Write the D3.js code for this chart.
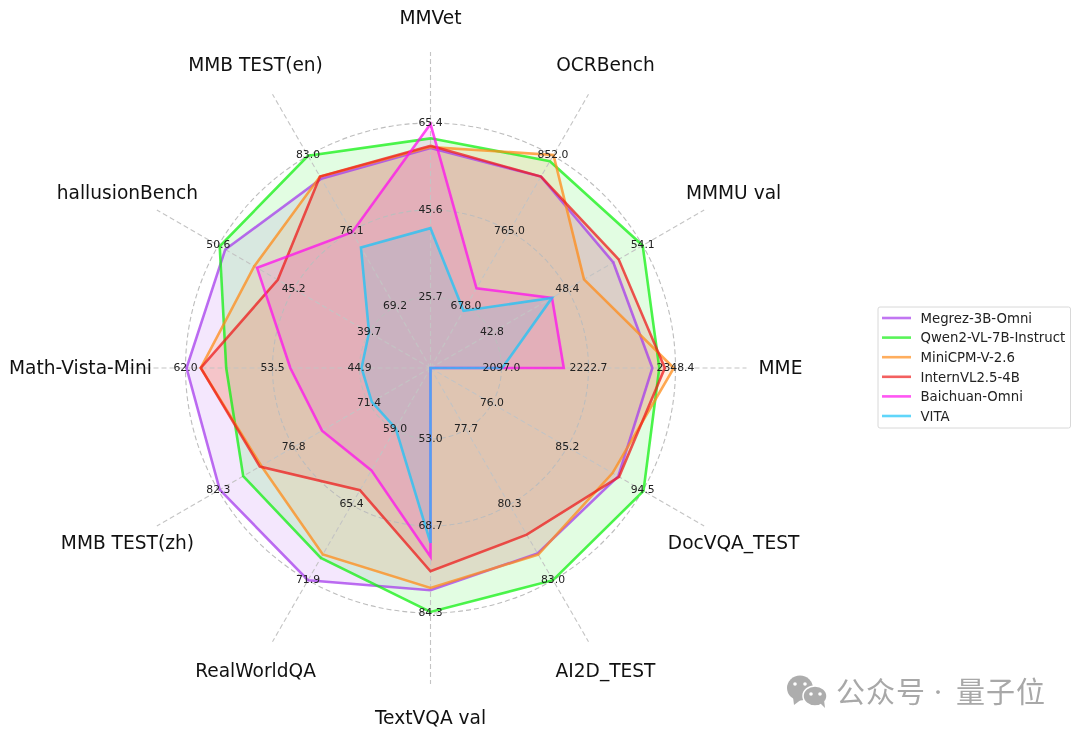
<!DOCTYPE html>
<html><head><meta charset="utf-8">
<script src="https://cdn.jsdelivr.net/npm/d3@7/dist/d3.min.js"></script>
<style>html,body{margin:0;padding:0;background:#fff}svg{display:block;filter:blur(0.4px)}text{font-family:"DejaVu Sans",sans-serif}</style>
</head><body><svg id="c" width="1080" height="736"></svg>
<script>
const axesNames = ["MMVet","OCRBench","MMMU val","MME","DocVQA_TEST","AI2D_TEST","TextVQA val","RealWorldQA","MMB TEST(zh)","Math-Vista-Mini","hallusionBench","MMB TEST(en)"];
const tickInner = [25.7,678.0,42.8,2097.0,76.0,77.7,53.0,59.0,71.4,44.9,39.7,69.2];
const tickMiddle = [45.6,765.0,48.4,2222.7,85.2,80.3,68.7,65.4,76.8,53.5,45.2,76.1];
const tickOuter = [65.4,852.0,54.1,2348.4,94.5,83.0,84.3,71.9,82.3,62.0,50.6,83.0];
const seriesNames = ["Megrez-3B-Omni","Qwen2-VL-7B-Instruct","MiniCPM-V-2.6","InternVL2.5-4B","Baichuan-Omni","VITA"];
const seriesColors = ["#a63cec","#12f012","#ff8c1a","#ee1c1c","#ff10ee","#1cc4f8"];
const megrez = [59.7,828,51.9,2315,91.5,82.06,80.2,71.9,82.2,61.9,50.1,80.9];
const qwen = [61.9,845.8,54.1,2325,94.6,83.0,84.1,70.0,80.5,58.0,50.5,83.0];
const minicpm = [59.9,853,49.7,2346,90.8,82.1,79.8,69.7,79.2,60.5,48.0,81.1];
const intern = [60.2,828,52.3,2333,91.6,81.4,76.8,64.2,79.3,60.5,46.3,81.1];
const baichuan = [65.2,699,47.3,2187,null,null,74.2,62.5,74.8,51.7,47.8,76.0];
const vita = [41.4,673,47.3,2098,null,null,71.7,58.9,71.2,44.7,39.7,74.6];
const seriesValues = [megrez,qwen,minicpm,intern,baichuan,vita];

const cx=430.5, cy=368, rIn=71, rMid=158, rOut=245, rAxis=316, rLabel=350;
const svg=d3.select("#c");
const g=svg.append("g").attr("transform",`translate(${cx},${cy})`);
const angle=d3.scalePoint().domain(axesNames).range([0,2*Math.PI*(11/12)]);
const radial=axesNames.map((_,i)=>d3.scaleLinear().domain([tickInner[i],tickOuter[i]]).range([rIn,rOut]));
const px=(a,r)=>[r*Math.sin(a),-r*Math.cos(a)];
const line=d3.lineRadial().angle((d,i)=>angle(axesNames[i])).radius((d,i)=>d==null?0:radial[i](d)).curve(d3.curveLinearClosed);

seriesValues.forEach((vals,k)=>{
  g.append("path").attr("d",line(vals)).attr("fill",seriesColors[k]).attr("fill-opacity",0.12).attr("stroke","none");
});
[rIn,rMid,rOut].forEach(r=>g.append("circle").attr("r",r).attr("fill","none").attr("stroke","#bdbdbd").attr("stroke-width",1.1).attr("stroke-dasharray","5,3"));
axesNames.forEach(n=>{const [x,y]=px(angle(n),rAxis);
  g.append("line").attr("x2",x).attr("y2",y).attr("stroke","#c4c4c4").attr("stroke-width",1.1).attr("stroke-dasharray","5,3");});
seriesValues.forEach((vals,k)=>{
  g.append("path").attr("d",line(vals)).attr("fill","none").attr("stroke",seriesColors[k]).attr("stroke-opacity",0.75).attr("stroke-width",2.6).attr("stroke-linejoin","miter");
});

axesNames.forEach((n,i)=>{
  [[tickInner,rIn],[tickMiddle,rMid],[tickOuter,rOut]].forEach(([arr,r])=>{
    const [x,y]=px(angle(n),r);
    g.append("text").attr("x",x).attr("y",y).attr("text-anchor","middle").attr("dy","0.24em").attr("font-size",10.8).attr("fill","#222").text(arr[i].toFixed(1));
  });
  const [x,y]=px(angle(n),rLabel);
  g.append("text").attr("x",x).attr("y",y-1).attr("text-anchor","middle").attr("dy","0.36em").attr("font-size",18.6).attr("fill","#111").text(n);
});

// legend
const lg=svg.append("g");
lg.append("rect").attr("x",878).attr("y",307).attr("width",192.5).attr("height",121).attr("rx",2).attr("fill","#fff").attr("stroke","#d8d8d8").attr("stroke-width",1);
const rowY=d3.scalePoint().domain(seriesNames).range([318,416]);
seriesNames.forEach((n,k)=>{
  lg.append("line").attr("x1",882).attr("x2",911).attr("y1",rowY(n)).attr("y2",rowY(n)).attr("stroke",seriesColors[k]).attr("stroke-opacity",0.7).attr("stroke-width",2.6);
  lg.append("text").attr("x",920.5).attr("y",rowY(n)).attr("dy","0.36em").attr("font-size",13.3).attr("fill","#222").text(n);
});

// watermark
const wm=svg.append("g").attr("fill","#adadad");
wm.append("ellipse").attr("cx",800).attr("cy",688).attr("rx",13).attr("ry",12.5);
wm.append("path").attr("d","M793,697 L794,705 L802,699 Z");
wm.append("ellipse").attr("cx",815).attr("cy",696).attr("rx",12).attr("ry",10).attr("stroke","#fff").attr("stroke-width",1.5);
wm.append("path").attr("d","M820,703 L825,708 L824,700 Z");
[[795,684],[805,684],[811,694],[820,694]].forEach(p=>wm.append("circle").attr("cx",p[0]).attr("cy",p[1]).attr("r",1.8).attr("fill","#fff"));
const cjk='"Noto Sans CJK SC",sans-serif';
svg.append("text").attr("x",836).attr("y",703).attr("font-size",29).attr("letter-spacing",1).attr("fill","#a8a8a8").style("font-family",cjk).text("公众号");
svg.append("text").attr("x",938).attr("y",699).attr("text-anchor","middle").attr("font-size",18).attr("fill","#a8a8a8").style("font-family",cjk).text("·");
svg.append("text").attr("x",956).attr("y",703).attr("font-size",29).attr("letter-spacing",1).attr("fill","#a8a8a8").style("font-family",cjk).text("量子位");
</script></body></html>
